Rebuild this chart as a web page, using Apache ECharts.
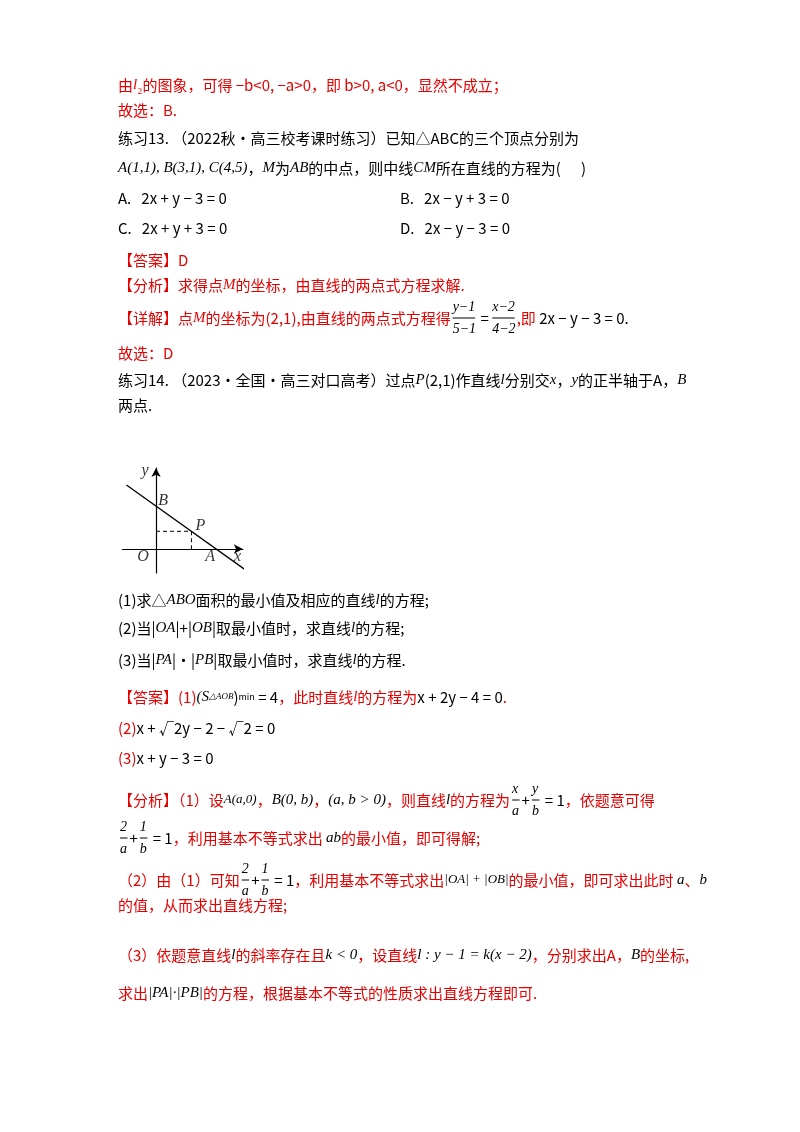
<!DOCTYPE html><html><head><meta charset="utf-8">
<script src="https://cdn.jsdelivr.net/npm/echarts@6/dist/echarts.min.js"></script>
<style>html,body{margin:0;background:#fff}#c{width:800px;height:1132px}</style></head><body><div id="c"></div>
<script>
const lineL = [[-1.67,3.62],[5.06,-1.19]];
const pointP = [2,1];
const dashH = [[0,1],[2,1]];
const dashV = [[2,1],[2,0]];
const labels = [{n:'y',p:[-0.62,4.4]},{n:'B',p:[0.4,2.71]},{n:'P',p:[2.5,1.3]},{n:'O',p:[-0.73,-0.45]},{n:'A',p:[3.05,-0.45]},{n:'x',p:[4.6,-0.45]}];

const R='#e60000', K='#000';
const F='"Noto Sans CJK SC","Liberation Serif"';
const G=[];
function t(x,y,parts){
  let cx=x;
  parts.forEach(p=>{
    const el={type:'text',x:cx,y:y,style:{text:p[0],fill:p[1]||K,font:(p[2]?'italic ':'')+(p[3]||15)+'px '+(p[2]?'"Liberation Serif"':F),verticalAlign:'middle'}};
    G.push(el);
    const c=document.createElement('canvas').getContext('2d');c.font=el.style.font;cx+=c.measureText(p[0]).width;
  });
  return cx;
}
function frac(x,y,n,d,col){
  t(x,y-11,[[n,col||K,true,14]]);t(x,y+11,[[d,col||K,true,14]]);
  const w=Math.max(n.length,d.length)*7.5;
  G.push({type:'line',shape:{x1:x,y1:y,x2:x+w,y2:y},style:{stroke:col||K,lineWidth:1}});
  return x+w+2;
}
t(118,85,[['由',R],['l',R,true],['₂',R],['的图象，可得 −b<0, −a>0，即 b>0, a<0，显然不成立；',R]]);
t(118,110,[['故选：B.',R]]);
t(118,138,[['练习13. （2022秋·高三校考课时练习）已知△ABC的三个顶点分别为',K]]);
t(118,168,[['A(1,1), B(3,1), C(4,5)',K,true],['，',K],['M',K,true],['为',K],['AB',K,true],['的中点，则中线',K],['CM',K,true],['所在直线的方程为(      )',K]]);
t(118,198,[['A.   2x + y − 3 = 0',K]]);t(400,198,[['B.   2x − y + 3 = 0',K]]);
t(118,228,[['C.   2x + y + 3 = 0',K]]);t(400,228,[['D.   2x − y − 3 = 0',K]]);
t(118,260,[['【答案】D',R]]);
t(118,285,[['【分析】求得点',R],['M',R,true],['的坐标，由直线的两点式方程求解.',R]]);
let x=t(118,318,[['【详解】点',R],['M',R,true],['的坐标为(2,1),由直线的两点式方程得',R]]);
x=frac(x+2,318,'y−1','5−1',K);x=t(x,318,[[' = ',K]]);x=frac(x,318,'x−2','4−2',K);t(x,318,[[',即 ',R],['2x − y − 3 = 0',K],['.',K]]);
t(118,353,[['故选：D',R]]);
t(118,380,[['练习14. （2023·全国·高三对口高考）过点',K],['P',K,true],['(2,1)作直线',K],['l',K,true],['分别交',K],['x',K,true],['，',K],['y',K,true],['的正半轴于A，',K],['B',K,true]]);
t(118,405,[['两点.',K]]);
t(118,600,[['(1)求△',K],['ABO',K,true],['面积的最小值及相应的直线',K],['l',K,true],['的方程;',K]]);
t(118,628,[['(2)当|',K],['OA',K,true],['|+|',K],['OB',K,true],['|取最小值时，求直线',K],['l',K,true],['的方程;',K]]);
t(118,660,[['(3)当|',K],['PA',K,true],['|·|',K],['PB',K,true],['|取最小值时，求直线',K],['l',K,true],['的方程.',K]]);
t(118,697,[['【答案】(1)',R],['(S',K,true],['△AOB',K,true,9],[')',K],['min',K,false,9],[' = 4',K],['，此时直线',R],['l',R,true],['的方程为',R],['x + 2y − 4 = 0',K],['.',R]]);
t(118,728,[['(2)',R],['x + √2y − 2 − √2 = 0',K]]);
t(118,758,[['(3)',R],['x + y − 3 = 0',K]]);
x=t(118,800,[['【分析】（1）设',R],['A(a,0)',K,true,13],['，',R],['B(0, b)',K,true],['，',R],['(a, b > 0)',K,true],['，则直线',R],['l',K,true],['的方程为',R]]);
x=frac(x+2,800,'x','a');x=t(x,800,[['+',K]]);x=frac(x+2,800,'y','b');t(x,800,[[' = 1',K],['，依题意可得',R]]);
x=frac(120,838,'2','a');x=t(x,838,[['+',K]]);x=frac(x+2,838,'1','b');t(x,838,[[' = 1',K],['，利用基本不等式求出 ',R],['ab',K,true],['的最小值，即可得解;',R]]);
x=t(118,880,[['（2）由（1）可知',R]]);x=frac(x+2,880,'2','a');x=t(x,880,[['+',K]]);x=frac(x+2,880,'1','b');
t(x,880,[[' = 1',K],['，利用基本不等式求出',R],['|OA| + |OB|',K,true,13],['的最小值，即可求出此时 ',R],['a',K,true],['、',R],['b',K,true]]);
t(118,905,[['的值，从而求出直线方程;',R]]);
t(118,955,[['（3）依题意直线',R],['l',K,true],['的斜率存在且',R],['k < 0',K,true],['，设直线',R],['l : y − 1 = k(x − 2)',K,true],['，分别求出A，',R],['B',K,true],['的坐标,',R]]);
t(118,993,[['求出',R],['|PA|·|PB|',K,true],['的方程，根据基本不等式的性质求出直线方程即可.',R]]);

const chart=echarts.init(document.getElementById('c'));
chart.setOption({animation:false,
 grid:{left:122.4,width:120.4,top:468,height:105},
 xAxis:{type:'value',min:-1.9,max:4.9,splitLine:{show:false},axisTick:{show:false},axisLabel:{show:false},
  axisLine:{onZero:true,symbol:['none','arrow'],symbolSize:[7,9],lineStyle:{color:'#000',width:1.2}}},
 yAxis:{type:'value',min:-1.36,max:4.58,splitLine:{show:false},axisTick:{show:false},axisLabel:{show:false},
  axisLine:{onZero:true,symbol:['none','arrow'],symbolSize:[7,9],lineStyle:{color:'#000',width:1.2}}},
 series:[
  {type:'line',data:lineL,symbol:'none',clip:false,lineStyle:{color:'#000',width:1.3}},
  {type:'line',data:dashH,symbol:'none',lineStyle:{color:'#000',width:1,type:[4,3]}},
  {type:'line',data:dashV,symbol:'none',lineStyle:{color:'#000',width:1,type:[4,3]}},
  {type:'scatter',data:labels.map(l=>({value:l.p,name:l.n})),symbolSize:0,clip:false,
   label:{show:true,position:'inside',formatter:p=>p.name,fontFamily:'Liberation Serif',fontStyle:'italic',fontSize:16,color:'#000'}}
 ],
 graphic:G});
</script></body></html>
